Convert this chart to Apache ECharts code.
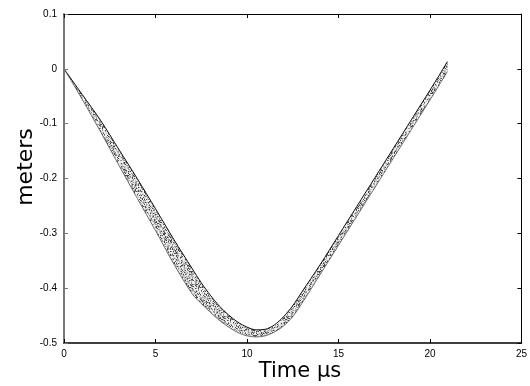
<!DOCTYPE html>
<html>
<head>
<meta charset="utf-8">
<script src="https://cdn.jsdelivr.net/npm/echarts@6/dist/echarts.min.js"></script>
<style>
html,body{margin:0;padding:0;background:#fff;}
#chart{width:530px;height:386px;}
</style>
</head>
<body>
<div id="chart"></div>
<script>
// Time samples (µs)
var times = [0, 1, 2, 3, 4, 5, 6, 7, 7.5, 8, 8.5, 9, 9.5, 10, 10.5, 11, 11.5, 12, 12.5, 13, 14, 15, 16, 17, 18, 19, 20, 20.5, 20.95];
// Upper envelope of the trajectory bundle (meters)
var upper = [0, -0.047, -0.094, -0.147, -0.200, -0.255, -0.311, -0.364, -0.390, -0.413, -0.433, -0.449, -0.462, -0.471, -0.476, -0.475, -0.467, -0.452, -0.432, -0.407, -0.357, -0.304, -0.251, -0.198, -0.145, -0.092, -0.039, -0.012, 0.013];
// Lower envelope of the trajectory bundle (meters)
var lower = [0, -0.056, -0.115, -0.176, -0.236, -0.295, -0.356, -0.410, -0.428, -0.444, -0.459, -0.471, -0.481, -0.487, -0.489, -0.487, -0.480, -0.469, -0.452, -0.428, -0.375, -0.322, -0.269, -0.216, -0.163, -0.110, -0.057, -0.030, -0.005];
var xTicks = [0, 5, 10, 15, 20, 25];
var yTicks = [-0.5, -0.4, -0.3, -0.2, -0.1, 0, 0.1];

// stipple texture for the band (deterministic hash pattern)
function makePattern() {
  var n = 32;
  var c = document.createElement('canvas');
  c.width = n; c.height = n;
  var g = c.getContext('2d');
  g.fillStyle = '#eeeeee';
  g.fillRect(0, 0, n, n);
  for (var y = 0; y < n; y++) {
    for (var x = 0; x < n; x++) {
      var h = ((x * 374761393) ^ (y * 668265263)) >>> 0;
      h = ((h ^ (h >>> 13)) * 1274126177) >>> 0;
      h = (h ^ (h >>> 16)) & 255;
      if (h < 40) { g.fillStyle = '#4a4a4a'; g.fillRect(x, y, 1, 1); }
      else if (h < 100) { g.fillStyle = '#9a9a9a'; g.fillRect(x, y, 1, 1); }
      else if (h < 150) { g.fillStyle = '#c6c6c6'; g.fillRect(x, y, 1, 1); }
    }
  }
  return c;
}
var pattern = {image: makePattern(), repeat: 'repeat'};

var upperData = times.map(function (t, i) { return [t, upper[i]]; });
var lowerData = times.map(function (t, i) { return [t, lower[i]]; });

var chart = echarts.init(document.getElementById('chart'), null, {renderer: 'canvas'});
var tickFont = {fontFamily: 'Liberation Sans', fontSize: 10, color: '#000'};
chart.setOption({
  animation: false,
  grid: {left: 64, top: 14, width: 464, height: 329, containLabel: false},
  xAxis: [{
    type: 'value', min: 0, max: 25, interval: 5, position: 'bottom', z: 5,
    axisLine: {show: true, onZero: false, lineStyle: {color: '#000', width: 1.5}},
    axisTick: {show: true, inside: true, length: 4, lineStyle: {color: '#000'}},
    axisLabel: Object.assign({margin: 6, formatter: function (v) { return xTicks.indexOf(v) >= 0 ? String(v) : ''; }}, tickFont),
    splitLine: {show: false}
  }, {
    type: 'value', min: 0, max: 25, interval: 5, position: 'top', z: 5,
    axisLine: {show: true, onZero: false, lineStyle: {color: '#000', width: 1}},
    axisTick: {show: true, inside: true, length: 4, lineStyle: {color: '#000'}},
    axisLabel: {show: false}, splitLine: {show: false}
  }],
  yAxis: [{
    type: 'value', min: -0.5, max: 0.1, interval: 0.1, position: 'left', z: 5,
    axisLine: {show: true, onZero: false, lineStyle: {color: '#777', width: 2}},
    axisTick: {show: true, inside: true, length: 4, lineStyle: {color: '#777'}},
    axisLabel: Object.assign({margin: 7, formatter: function (v) {
      var r = Math.round(v * 10) / 10; return yTicks.indexOf(r) >= 0 ? String(r) : '';
    }}, tickFont),
    splitLine: {show: false}
  }, {
    type: 'value', min: -0.5, max: 0.1, interval: 0.1, position: 'right', z: 5,
    axisLine: {show: true, onZero: false, lineStyle: {color: '#000', width: 1}},
    axisTick: {show: true, inside: true, length: 4, lineStyle: {color: '#000'}},
    axisLabel: {show: false}, splitLine: {show: false}
  }],
  graphic: [{
    type: 'text', x: 300, y: 372,
    style: {text: 'Time µs', font: '21px "DejaVu Sans"', fill: '#000', textAlign: 'center', textVerticalAlign: 'middle'}
  }, {
    type: 'text', x: 26, y: 167, rotation: Math.PI / 2,
    style: {text: 'meters', font: '22px "DejaVu Sans"', fill: '#000', textAlign: 'center', textVerticalAlign: 'middle'}
  }],
  series: [{
    name: 'band', type: 'custom', xAxisIndex: 0, yAxisIndex: 0,
    data: [[0, 0]],
    renderItem: function (params, api) {
      var pts = [];
      for (var i = 0; i < times.length; i++) pts.push(api.coord([times[i], upper[i]]));
      for (var j = times.length - 1; j >= 0; j--) pts.push(api.coord([times[j], lower[j]]));
      return {
        type: 'polygon',
        shape: {points: pts, smooth: 0.3},
        style: {fill: pattern, stroke: null}
      };
    },
    z: 1
  }, {
    name: 'upper', type: 'line', xAxisIndex: 0, yAxisIndex: 0,
    data: upperData, smooth: 0.3, symbol: 'none', z: 3,
    lineStyle: {color: '#111', width: 1}
  }, {
    name: 'lower', type: 'line', xAxisIndex: 0, yAxisIndex: 0,
    data: lowerData, smooth: 0.3, symbol: 'none', z: 3,
    lineStyle: {color: '#555', width: 0.8}
  }]
});
</script>
</body>
</html>
